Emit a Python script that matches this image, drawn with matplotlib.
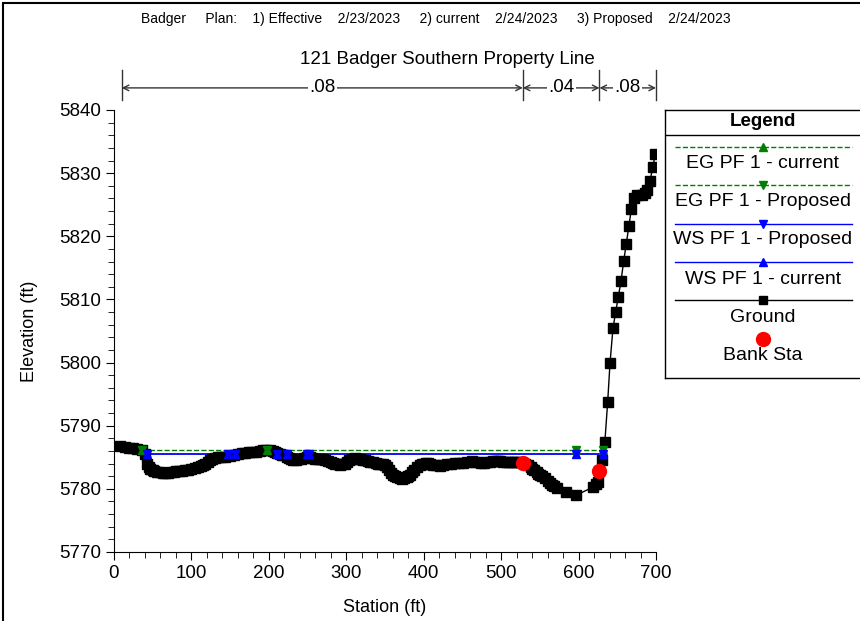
import matplotlib
matplotlib.use("Agg")
import matplotlib.pyplot as plt
import matplotlib.transforms as mtransforms
from matplotlib.patches import Rectangle

plt.rcParams['font.family'] = ['Liberation Sans', 'DejaVu Sans']

# ground profile (station ft, elevation ft)
ground_sta = [8, 14, 20, 25, 30, 36, 40, 43, 45, 47, 50, 52, 56, 60, 63, 66, 70, 74, 77, 80,
              84, 88, 92, 96, 100, 105, 108, 112, 115, 118, 121, 124, 127, 130, 134, 138,
              143, 150, 155, 160, 165, 169, 174, 178, 184, 189, 193, 196, 201, 205, 208,
              211, 214, 217, 220, 223, 226, 229, 231, 235, 238, 242, 245, 249, 253, 256,
              260, 263, 266, 270, 273, 277, 280, 283, 286, 289, 292, 295, 298, 301, 304,
              307, 311, 314, 318, 321, 324, 328, 331, 334, 338, 341, 344, 347, 350, 353,
              355, 358, 360, 363, 366, 369, 372, 375, 378, 380, 382, 385, 388, 391, 395,
              398, 400, 403, 405, 408, 412, 416, 421, 425, 430, 435, 440, 445, 451, 456,
              462, 466, 470, 474, 478, 482, 486, 490, 493, 496, 499, 503, 507, 510, 514,
              517, 520, 524, 528, 531, 535, 538, 540, 543, 546, 548, 550, 553, 557, 560,
              563, 566, 568, 572, 584, 597, 619, 623, 625, 627, 630, 634, 637.6, 640.6,
              644.4, 647.9, 651.3, 654.8, 658.3, 661.6, 665.1, 668.1, 671.6, 675.8, 681.5,
              685.8, 688.8, 692.2, 695.7, 699.1]
ground_elev = [5786.8, 5786.7, 5786.5, 5786.4, 5786.3, 5786.2, 5785.5, 5784.0, 5783.5,
               5783.2, 5783.0, 5782.8, 5782.7, 5782.6, 5782.5, 5782.5, 5782.5, 5782.6,
               5782.7, 5782.8, 5782.9, 5782.9, 5783.0, 5783.0, 5783.1, 5783.3, 5783.4,
               5783.6, 5783.8, 5784.0, 5784.3, 5784.5, 5784.7, 5784.9, 5785.0, 5785.0,
               5785.1, 5785.2, 5785.4, 5785.5, 5785.6, 5785.7, 5785.8, 5785.8, 5785.9,
               5786.0, 5786.1, 5786.2, 5786.2, 5786.0, 5785.8, 5785.6, 5785.5, 5785.4,
               5785.3, 5785.1, 5784.9, 5784.7, 5784.6, 5784.6, 5784.7, 5784.8, 5784.9,
               5785.0, 5785.0, 5784.9, 5784.8, 5784.8, 5784.7, 5784.7, 5784.6, 5784.4,
               5784.3, 5784.1, 5784.0, 5783.9, 5783.8, 5783.9, 5784.0, 5784.2, 5784.5,
               5784.7, 5784.9, 5784.8, 5784.7, 5784.6, 5784.5, 5784.4, 5784.3, 5784.2,
               5784.1, 5784.0, 5784.0, 5783.9, 5783.8, 5783.4, 5783.0, 5782.5, 5782.2,
               5782.0, 5781.8, 5781.7, 5781.6, 5781.7, 5781.8, 5782.0, 5782.2, 5782.6,
               5783.0, 5783.4, 5783.8, 5783.9, 5784.0, 5784.1, 5784.1, 5784.0, 5783.8,
               5783.7, 5783.6, 5783.7, 5783.9, 5784.0, 5784.1, 5784.1, 5784.1, 5784.2,
               5784.4, 5784.3, 5784.2, 5784.1, 5784.1, 5784.2, 5784.3, 5784.4, 5784.4,
               5784.4, 5784.4, 5784.3, 5784.2, 5784.2, 5784.3, 5784.3, 5784.3, 5784.2,
               5784.1, 5784.0, 5783.7, 5783.4, 5783.2, 5783.0, 5782.7, 5782.4, 5782.2,
               5782.0, 5781.7, 5781.3, 5780.9, 5780.6, 5780.4, 5780.1, 5779.5, 5779.0,
               5780.3, 5780.8, 5781.1, 5782.8, 5784.6, 5787.5, 5793.8, 5799.9, 5805.4,
               5808.0, 5810.4, 5812.9, 5816.1, 5818.8, 5821.7, 5824.3, 5826.1, 5826.5,
               5826.6, 5826.8, 5827.4, 5828.7, 5830.9, 5833.0]

bank_sta = [528, 627]
bank_elev = [5784.1, 5782.8]

ws_sta = [42, 147, 156, 210, 223, 249, 252, 597, 631]
ws_elev = 5785.5
eg_sta = [36, 197, 597, 632]
eg_elev = 5786.2

n_breaks = [10, 528, 627, 700]
n_values = ['.08', '.04', '.08']

fig = plt.figure(figsize=(8.6, 6.21), dpi=100)
ax = fig.add_axes([114 / 860, 1 - 552 / 621, (656 - 114) / 860, (552 - 110) / 621])

# energy grade and water surface lines (current and proposed coincide)
ax.plot(eg_sta, [eg_elev] * len(eg_sta), color='green', ls='--', lw=1, zorder=2)
ax.plot(ws_sta, [ws_elev] * len(ws_sta), color='blue', lw=1.3, zorder=2)
ax.plot(ground_sta, ground_elev, color='black', lw=1, marker='s', ms=7, zorder=3)
for mk in ['^', 'v']:
    ax.plot(eg_sta, [eg_elev] * len(eg_sta), ls='none', marker=mk, ms=6, color='green', zorder=4)
    ax.plot(ws_sta, [ws_elev] * len(ws_sta), ls='none', marker=mk, ms=6, color='blue', zorder=4)
ax.plot(bank_sta, bank_elev, ls='none', marker='o', ms=10, color='red', zorder=5)

ax.set_xlim(0, 700)
ax.set_ylim(5770, 5840)
ax.set_xticks(range(0, 701, 100))
ax.set_xticks(range(0, 701, 20), minor=True)
ax.set_yticks(range(5770, 5841, 10))
ax.set_yticks(range(5770, 5841, 2), minor=True)
ax.spines['top'].set_visible(False)
ax.spines['right'].set_visible(False)
ax.tick_params(which='major', length=6, labelsize=13.5)
ax.tick_params(which='minor', length=4)
ax.set_xlabel('Station (ft)', fontsize=13)
ax.set_ylabel('Elevation (ft)', fontsize=13)
ax.xaxis.set_label_coords((385 - 114) / 542, (552 - 607) / 442)
ax.yaxis.set_label_coords((30 - 114) / 542, 0.5)
ax.xaxis.label.set_va('center')
ax.yaxis.label.set_va('center')

# Manning's n bar above the plot
trans = mtransforms.blended_transform_factory(ax.transData, ax.transAxes)
for b in n_breaks:
    ax.plot([b, b], [1.022, 1.09], color='#333333', lw=1, transform=trans, clip_on=False)
for i, lab in enumerate(n_values):
    ax.annotate('', xy=(n_breaks[i], 1.05), xytext=(n_breaks[i + 1], 1.05),
                xycoords=trans, textcoords=trans,
                arrowprops=dict(arrowstyle='<->', color='#333333', lw=1, shrinkA=0, shrinkB=0))
    ax.text((n_breaks[i] + n_breaks[i + 1]) / 2, 1.05, lab, transform=trans,
            ha='center', va='center', fontsize=13.5,
            bbox=dict(facecolor='white', edgecolor='none', pad=1))

fig.text(436 / 860, 1 - 19 / 621,
         'Badger     Plan:    1) Effective    2/23/2023     2) current    2/24/2023     3) Proposed    2/24/2023',
         ha='center', va='center', fontsize=10)
fig.text(447 / 860, 1 - 59 / 621, '121 Badger Southern Property Line',
         ha='center', va='center', fontsize=13.5)

# legend box drawn in pixel coordinates
lax = fig.add_axes([665 / 860, 1 - 378 / 621, 210 / 860, (378 - 110) / 621])
lax.set_xlim(665, 875)
lax.set_ylim(378, 110)
lax.set_xticks([])
lax.set_yticks([])
for s in lax.spines.values():
    s.set_linewidth(1)
lax.plot([665, 875], [135, 135], color='black', lw=1)
lax.text(763, 122, 'Legend', ha='center', va='center', fontsize=13.5, fontweight='bold')
entries = [
    ('EG PF 1 - current', 'green', '--', '^', 147, 163),
    ('EG PF 1 - Proposed', 'green', '--', 'v', 185, 201),
    ('WS PF 1 - Proposed', 'blue', '-', 'v', 224, 240),
    ('WS PF 1 - current', 'blue', '-', '^', 262, 279),
    ('Ground', 'black', '-', 's', 300, 318),
]
for lab, c, ls, mk, ly, ty in entries:
    lax.plot([675, 852], [ly, ly], color=c, ls=ls, lw=1)
    lax.plot([763], [ly], marker=mk, color=c, ms=6)
    lax.text(763, ty, lab, ha='center', va='center', fontsize=14)
lax.plot([763], [339], marker='o', color='red', ms=10)
lax.text(763, 356, 'Bank Sta', ha='center', va='center', fontsize=14)

fig.patches.append(Rectangle((3 / 860, -0.05), 1.2, 1.05 - 3 / 621, transform=fig.transFigure,
                             fill=False, edgecolor='black', lw=1.5))

fig.savefig('out.png', dpi=100)
